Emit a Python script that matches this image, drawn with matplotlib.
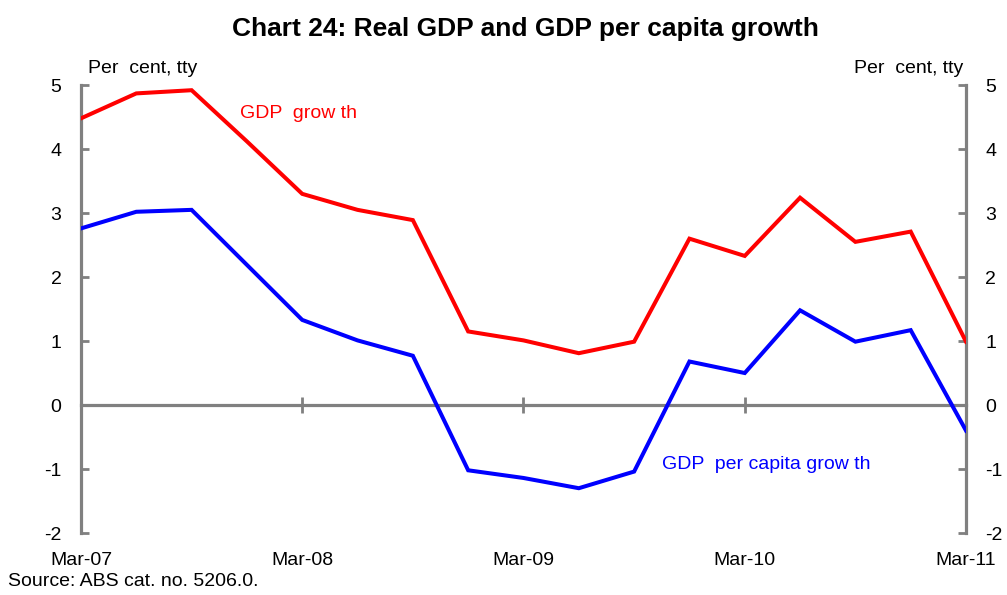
import numpy as np
import matplotlib.pyplot as plt

plt.rcParams["font.family"] = ["Liberation Sans", "DejaVu Sans"]

# quarterly, Mar-07 to Mar-11, per cent year-ended
quarters = ["Mar-07", "Jun-07", "Sep-07", "Dec-07",
            "Mar-08", "Jun-08", "Sep-08", "Dec-08",
            "Mar-09", "Jun-09", "Sep-09", "Dec-09",
            "Mar-10", "Jun-10", "Sep-10", "Dec-10",
            "Mar-11"]
gdp_growth = [4.48, 4.87, 4.92, 4.12, 3.30, 3.05, 2.89, 1.15, 1.01,
              0.81, 0.99, 2.60, 2.33, 3.24, 2.55, 2.71, 0.99]
gdp_pc_growth = [2.76, 3.02, 3.05, 2.19, 1.33, 1.01, 0.77, -1.02, -1.14,
                 -1.30, -1.04, 0.68, 0.50, 1.48, 0.99, 1.17, -0.40]
year_labels = ["Mar-07", "Mar-08", "Mar-09", "Mar-10", "Mar-11"]

GREY = "#808080"
FS = 14

x = np.arange(len(quarters))

fig = plt.figure(figsize=(10.07, 5.95), dpi=100)
ax = fig.add_axes([0.0804, 0.1042, 0.8789, 0.7528])

ax.plot(x, gdp_growth, color="#ff0000", lw=2.9, solid_joinstyle="miter", zorder=3)
ax.plot(x, gdp_pc_growth, color="#0000ff", lw=2.9, solid_joinstyle="miter", zorder=3)

ax.set_xlim(0, len(quarters) - 1)
ax.set_ylim(-2, 5)

# zero line acts as the x axis
ax.spines["top"].set_visible(False)
ax.spines["bottom"].set_position(("data", 0))
for s in ["left", "right", "bottom"]:
    ax.spines[s].set_color(GREY)
    ax.spines[s].set_linewidth(2.3)

year_pos = [quarters.index(q) for q in year_labels]
ax.set_xticks(year_pos[1:-1])
ax.tick_params(axis="x", direction="inout", length=12, width=2.0,
               color=GREY, labelbottom=False)
for p, lab in zip(year_pos, year_labels):
    ax.text(p, -0.062, lab, transform=ax.get_xaxis_transform(),
            ha="center", va="center", fontsize=FS)

yt = np.arange(-2, 6)
ax.set_yticks(yt)
ax.set_yticklabels([str(v) for v in yt])
ax.tick_params(axis="y", direction="in", length=6, width=2.0, color=GREY,
               labelsize=FS, pad=14, left=True, right=True,
               labelleft=True, labelright=True)

ax.text(0.008, 1.038, "Per  cent, tty", transform=ax.transAxes,
        ha="left", va="center", fontsize=FS)
ax.text(0.997, 1.038, "Per  cent, tty", transform=ax.transAxes,
        ha="right", va="center", fontsize=FS)

ax.text(2.88, 4.55, "GDP  grow th", color="#ff0000", fontsize=FS,
        ha="left", va="center")
ax.text(10.5, -0.93, "GDP  per capita grow th", color="#0000ff",
        fontsize=FS, ha="left", va="center")

fig.text(0.522, 0.952, "Chart 24: Real GDP and GDP per capita growth",
         ha="center", va="center", fontsize=19, fontweight="bold")
fig.text(0.008, 0.023, "Source: ABS cat. no. 5206.0.", ha="left",
         va="center", fontsize=FS)

fig.savefig("out.png", dpi=100)
